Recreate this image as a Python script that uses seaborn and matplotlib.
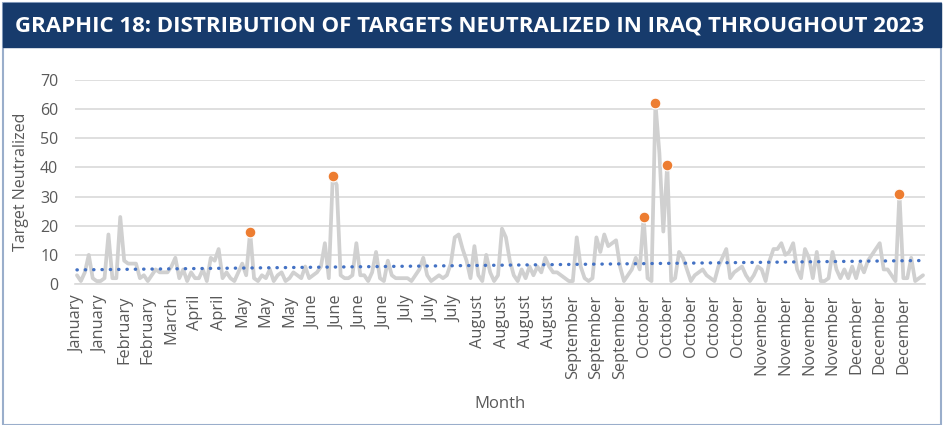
import numpy as np
import pandas as pd
import matplotlib
matplotlib.use("Agg")
import matplotlib.pyplot as plt
import seaborn as sns
from matplotlib.patches import Rectangle

# weekly-ish counts, split into chunks
jan_apr = [3, 1, 4, 10, 2, 1, 1, 2, 17, 2, 2, 23, 8, 7, 7, 7, 2, 3, 1, 3,
           5, 4, 4, 4, 6, 9, 2, 5, 1, 4, 2, 2, 5, 1, 9, 8, 12, 2, 4, 2,
           1, 4, 7, 3]
may_jul = [18, 2, 1, 3, 2, 5, 1, 3, 4, 1, 2, 4, 3, 2, 6, 2, 3, 4, 6, 14,
           2, 37, 34, 3, 2, 2, 3, 14, 3, 3, 1, 4, 11, 2, 1, 8, 3, 2, 2, 2,
           2, 1, 3, 5, 9, 3, 1, 2, 3, 2, 3, 7, 16, 17, 12, 8]
aug_sep = [2, 13, 3, 1, 10, 4, 1, 3, 19, 16, 8, 3, 1, 5, 2, 6, 3, 6, 4, 9,
           6, 4, 4, 3, 2, 1, 1, 16, 6, 2, 1, 2, 16, 11, 17, 13, 14, 15, 6, 1,
           3, 5, 9, 5]
oct_dec = [23, 2, 1, 62, 45, 18, 41, 1, 2, 11, 9, 5, 1, 3, 4, 5, 3, 2, 1, 6,
           9, 12, 2, 4, 5, 6, 3, 1, 3, 6, 5, 1, 8, 12, 12, 14, 10, 11, 14, 5,
           2, 12, 9, 2, 11, 1, 1, 2, 11, 5, 2, 5, 2, 6, 2, 7, 4, 8, 10, 12,
           14, 5, 5, 3, 1, 31, 2, 2, 9, 1, 2, 3]

month_labels = (["January"] * 2 + ["February"] * 2 + ["March"] + ["April"] * 2
                + ["May"] * 3 + ["June"] * 4 + ["July"] * 3 + ["August"] * 4
                + ["September"] * 3 + ["October"] * 5 + ["November"] * 4
                + ["December"] * 3)

# points marked in orange
highlight_idx = [44, 65, 144, 147, 150, 209]

targets = jan_apr + may_jul + aug_sep + oct_dec
df = pd.DataFrame({"idx": np.arange(len(targets)), "targets": targets})
df["trend"] = np.polyval(np.polyfit(df["idx"], df["targets"], 1), df["idx"])
hl = df.loc[highlight_idx]

sns.set_theme(style="white")
plt.rcParams["font.family"] = ["Open Sans", "DejaVu Sans"]

fig = plt.figure(figsize=(9.44, 4.25), dpi=100)

# frame and title banner
fig.patches.append(Rectangle((3 / 944, 0), 938 / 944, 422 / 425, transform=fig.transFigure,
                             fill=False, edgecolor="#9aaecb", lw=1.5))
fig.patches.append(Rectangle((3 / 944, 1 - 47 / 425), 938 / 944, 44 / 425, transform=fig.transFigure,
                             facecolor="#173b6c", edgecolor="#173b6c"))
fig.text(15 / 944, 1 - 26 / 425, "GRAPHIC 18: DISTRIBUTION OF TARGETS NEUTRALIZED IN IRAQ THROUGHOUT 2023",
         color="white", fontsize=16, fontweight="bold", family=["Open Sans", "DejaVu Sans"],
         va="center", ha="left")

ax = fig.add_axes([75 / 944, 1 - 284 / 425, 850 / 944, 204 / 425])
sns.lineplot(data=df, x="idx", y="targets", color="#d0d0d0", lw=2.7, ax=ax, zorder=3)
sns.lineplot(data=df, x="idx", y="trend", color="#4472c4", lw=2.4, ax=ax, zorder=4,
             linestyle=(0, (0.1, 2.4)), dash_capstyle="round")
sns.scatterplot(data=hl, x="idx", y="targets", color="#ed7d31", s=60, edgecolor="white",
                linewidth=0.8, ax=ax, zorder=5)

ax.set_xlim(-0.5, len(targets) - 0.5)
ax.set_ylim(0, 70)
ax.set_yticks(range(0, 71, 10))
ax.set_xticks(np.arange(0, len(targets), 6))
ax.set_xticklabels(month_labels, rotation=90)
ax.yaxis.grid(True, color="#d9d9d9", lw=1.2)
ax.set_axisbelow(True)
for s in ["top", "right", "left"]:
    ax.spines[s].set_visible(False)
ax.spines["bottom"].set_color("#d9d9d9")
ax.spines["bottom"].set_linewidth(1.2)
ax.tick_params(axis="both", colors="#595959", length=0)
ax.tick_params(axis="y", pad=12, labelsize=11.5)
ax.tick_params(axis="x", pad=8, labelsize=11.8)
ax.set_xlabel("Month", color="#595959", fontsize=12, labelpad=12)
ax.set_ylabel("Target Neutralized", color="#595959", fontsize=11.5, labelpad=8)

fig.savefig("out.png", dpi=100)
